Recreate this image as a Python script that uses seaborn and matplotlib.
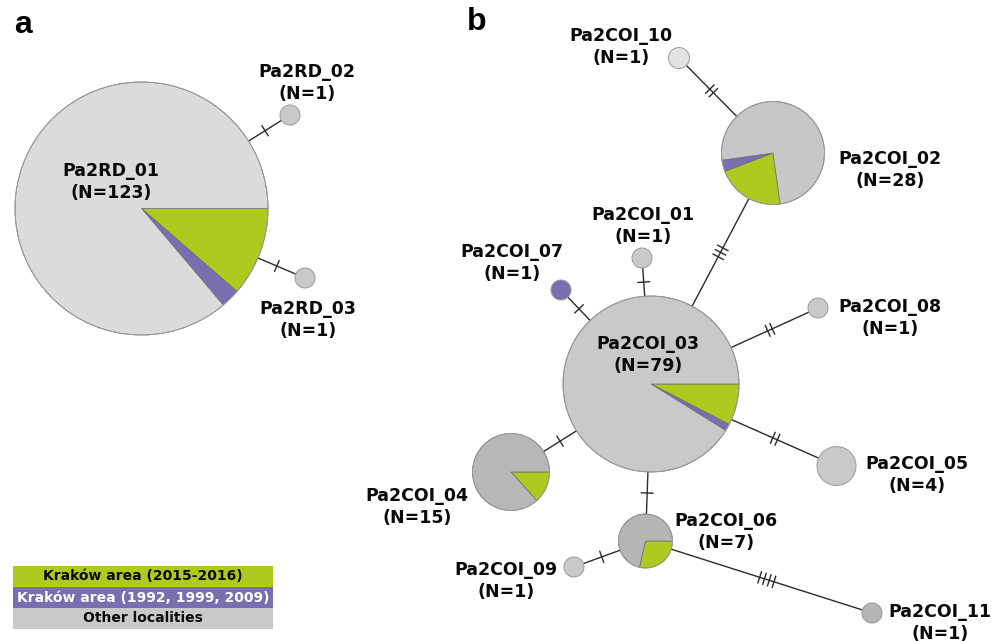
import matplotlib
matplotlib.use("Agg")
import matplotlib.pyplot as plt
from matplotlib.patches import Wedge, Circle, Rectangle
import numpy as np
import seaborn as sns

# ---------------- data ----------------
nodes = ["Pa2RD_01", "Pa2RD_02", "Pa2RD_03",
         "Pa2COI_01", "Pa2COI_02", "Pa2COI_03", "Pa2COI_04", "Pa2COI_05",
         "Pa2COI_06", "Pa2COI_07", "Pa2COI_08", "Pa2COI_09", "Pa2COI_10", "Pa2COI_11"]
n_total  = [123, 1, 1, 1, 28, 79, 15, 4, 7, 1, 1, 1, 1, 1]
n_new    = [14, 0, 0, 0, 6, 6, 2, 0, 2, 0, 0, 0, 0, 0]   # Kraków area (2015-2016)
n_old    = [3, 0, 0, 0, 1, 1, 0, 0, 0, 1, 0, 0, 0, 0]    # Kraków area (1992, 1999, 2009)
edges_from = ["Pa2RD_01", "Pa2RD_01", "Pa2COI_10", "Pa2COI_02", "Pa2COI_01", "Pa2COI_07",
              "Pa2COI_08", "Pa2COI_05", "Pa2COI_04", "Pa2COI_06", "Pa2COI_09", "Pa2COI_11"]
edges_to   = ["Pa2RD_02", "Pa2RD_03", "Pa2COI_02", "Pa2COI_03", "Pa2COI_03", "Pa2COI_03",
              "Pa2COI_03", "Pa2COI_03", "Pa2COI_03", "Pa2COI_03", "Pa2COI_06", "Pa2COI_06"]
mutations  = [1, 1, 2, 3, 1, 1, 2, 2, 1, 1, 1, 4]
legend_labels = ["Kraków area (2015-2016)", "Kraków area (1992, 1999, 2009)", "Other localities"]
panel_labels = ["a", "b"]

# ---------------- layout / style ----------------
pos = {"Pa2RD_01": (141.5, 208.5), "Pa2RD_02": (290, 115), "Pa2RD_03": (305, 278),
       "Pa2COI_01": (642, 258), "Pa2COI_02": (773, 153), "Pa2COI_03": (651, 384),
       "Pa2COI_04": (511, 472), "Pa2COI_05": (836.5, 466), "Pa2COI_06": (645.5, 541),
       "Pa2COI_07": (561, 290), "Pa2COI_08": (818, 308), "Pa2COI_09": (574, 567),
       "Pa2COI_10": (679, 58), "Pa2COI_11": (872, 613)}
rad = {"Pa2RD_01": 126.5, "Pa2RD_02": 10, "Pa2RD_03": 10,
       "Pa2COI_01": 10, "Pa2COI_02": 51.5, "Pa2COI_03": 88, "Pa2COI_04": 38.5,
       "Pa2COI_05": 19.5, "Pa2COI_06": 27, "Pa2COI_07": 10, "Pa2COI_08": 10,
       "Pa2COI_09": 10, "Pa2COI_10": 10.5, "Pa2COI_11": 10}
other_col = {"Pa2RD_01": "#dadbdb", "Pa2COI_04": "#b6b7b7", "Pa2COI_06": "#b4b5b5",
             "Pa2COI_11": "#b4b5b5", "Pa2COI_10": "#e1e2e2", "Pa2COI_02": "#c6c7c7"}
start_ang = {"Pa2COI_02": 82}
label_pos = {"Pa2RD_01": (111, 182), "Pa2RD_02": (307, 83), "Pa2RD_03": (308, 320),
             "Pa2COI_01": (643, 226), "Pa2COI_02": (890, 170), "Pa2COI_03": (648, 355),
             "Pa2COI_04": (417, 507), "Pa2COI_05": (917, 475), "Pa2COI_06": (726, 532),
             "Pa2COI_07": (512, 263), "Pa2COI_08": (890, 318), "Pa2COI_09": (506, 581),
             "Pa2COI_10": (621, 47), "Pa2COI_11": (940, 623)}
GREEN, PURPLE, GRAY = "#afca1f", "#7b6eb0", "#c8c9c9"

sns.set_theme(style="white")
plt.rcParams["font.family"] = ["DejaVu Sans"]

fig = plt.figure(figsize=(10.05, 6.41), dpi=100)
ax = fig.add_axes([0, 0, 1, 1])
ax.set_xlim(0, 1005)
ax.set_ylim(641, 0)
ax.axis("off")

# edges with mutation ticks
for a, b, m in zip(edges_from, edges_to, mutations):
    (x1, y1), (x2, y2) = pos[a], pos[b]
    ax.plot([x1, x2], [y1, y2], color="#2b2b2b", lw=1.0, zorder=1)
    d = np.hypot(x2 - x1, y2 - y1)
    ux, uy = (x2 - x1) / d, (y2 - y1) / d
    px, py = -uy, ux
    t_mid = (rad[a] + (d - rad[b])) / 2.0
    for k in range(m):
        t = t_mid + (k - (m - 1) / 2.0) * 5.0
        cx, cy = x1 + ux * t, y1 + uy * t
        ax.plot([cx - px * 6, cx + px * 6], [cy - py * 6, cy + py * 6],
                color="#2b2b2b", lw=1.0, zorder=1)

# pie nodes
for name, tot, g, p in zip(nodes, n_total, n_new, n_old):
    x, y = pos[name]
    r = rad[name]
    o = tot - g - p
    ang = start_ang.get(name, 0)
    for cnt, col in [(g, GREEN), (p, PURPLE), (o, other_col.get(name, GRAY))]:
        if cnt == 0:
            continue
        span = 360.0 * cnt / tot
        if span >= 360:
            ax.add_patch(Circle((x, y), r, facecolor=col, edgecolor="none", zorder=2))
        else:
            ax.add_patch(Wedge((x, y), r, ang, ang + span, facecolor=col,
                               edgecolor="#6d6d6d", lw=0.5, zorder=2))
        ang += span
    ax.add_patch(Circle((x, y), r, facecolor="none", edgecolor="#9a9a9a", lw=0.7, zorder=3))
    lx, ly = label_pos[name]
    ax.text(lx, ly, f"{name}\n(N={tot})", ha="center", va="center",
            fontsize=12.5, fontweight="bold", color="#0a0a0a", linespacing=1.22, zorder=4)

# panel letters
ax.text(23, 25, panel_labels[0], fontsize=23, fontweight="bold", ha="center", va="center",
        family="Liberation Sans", color="black")
ax.text(477, 22, panel_labels[1], fontsize=23, fontweight="bold", ha="center", va="center",
        family="Liberation Sans", color="black")

# legend
leg_cols = [GREEN, PURPLE, GRAY]
leg_txt = ["#0a0a0a", "white", "#0a0a0a"]
for i, (lab, c, tc) in enumerate(zip(legend_labels, leg_cols, leg_txt)):
    y0 = 566 + i * 21
    ax.add_patch(Rectangle((13, y0), 260, 21, facecolor=c, edgecolor="none", zorder=2))
    ax.text(143, y0 + 10.5, lab, ha="center", va="center", fontsize=10,
            fontweight="bold", color=tc, zorder=3)

fig.savefig("out.png", dpi=100)
